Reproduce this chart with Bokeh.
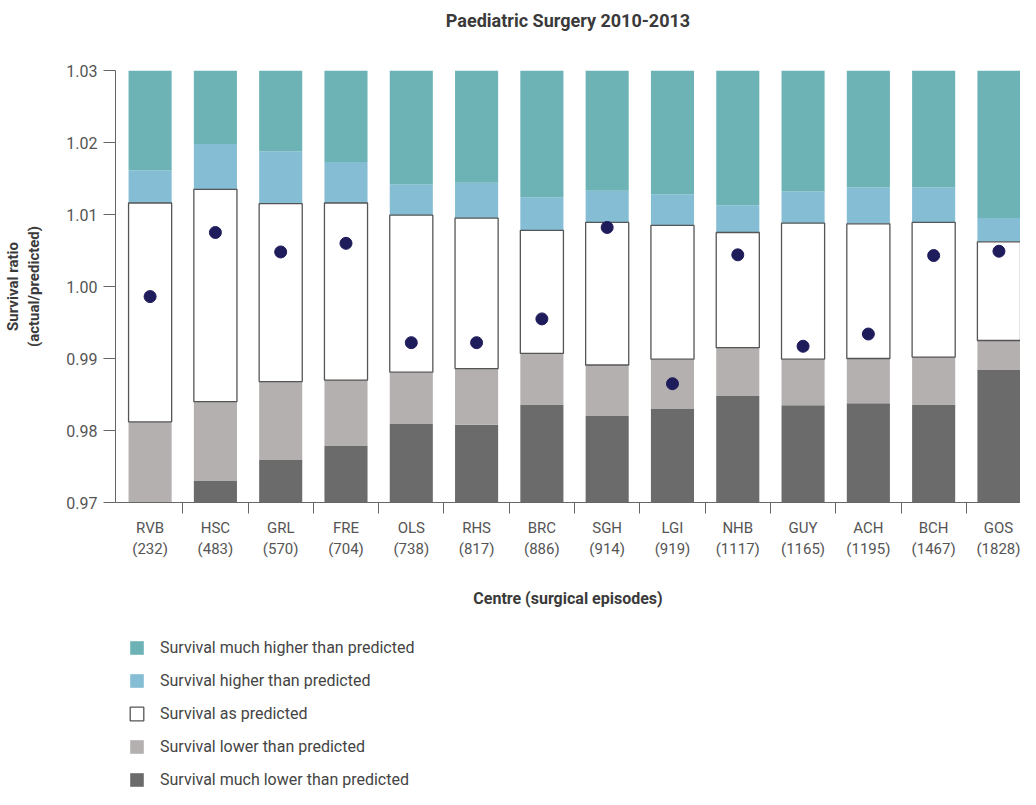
from bokeh.plotting import figure
from bokeh.layouts import column
from bokeh.models import FixedTicker, Legend, LegendItem, ColumnDataSource, Range1d
from bokeh.embed import file_html
from bokeh.resources import INLINE

# ---- data ----
centres = ["RVB", "HSC", "GRL", "FRE", "OLS", "RHS", "BRC", "SGH", "LGI", "NHB", "GUY", "ACH", "BCH", "GOS"]
episodes = [232, 483, 570, 704, 738, 817, 886, 914, 919, 1117, 1165, 1195, 1467, 1828]
much_lower_top = [0.9700, 0.9730, 0.9759, 0.9779, 0.9809, 0.9808, 0.9836, 0.9821, 0.9830, 0.9848, 0.9835, 0.9838, 0.9836, 0.9884]
lower_top = [0.9812, 0.9840, 0.9868, 0.9870, 0.9881, 0.9886, 0.9907, 0.9891, 0.9899, 0.9915, 0.9899, 0.9900, 0.9902, 0.9925]
as_predicted_top = [1.0116, 1.0135, 1.0115, 1.0116, 1.0099, 1.0095, 1.0078, 1.0089, 1.0085, 1.0075, 1.0088, 1.0087, 1.0089, 1.0062]
higher_top = [1.0161, 1.0198, 1.0188, 1.0173, 1.0142, 1.0144, 1.0124, 1.0133, 1.0128, 1.0113, 1.0132, 1.0138, 1.0138, 1.0095]
survival_ratio = [0.9986, 1.0075, 1.0048, 1.0060, 0.9922, 0.9922, 0.9955, 1.0082, 0.9865, 1.0044, 0.9917, 0.9934, 1.0043, 1.0049]
y_ticks = [0.97, 0.98, 0.99, 1.00, 1.01, 1.02, 1.03]
y_min, y_max = 0.97, 1.03

title_text = "Paediatric Surgery 2010-2013"
labels = ["Survival much higher than predicted", "Survival higher than predicted",
          "Survival as predicted", "Survival lower than predicted",
          "Survival much lower than predicted"]
colors = ["#6db3b6", "#84bdd4", "white", "#b3b0af", "#6b6b6b"]
BOX_LINE = "#555555"

FONT = "Roboto"
xs = list(range(len(centres)))

src = ColumnDataSource(dict(
    x=xs,
    base=[y_min] * len(xs),
    top_all=[y_max] * len(xs),
    ml=much_lower_top, lo=lower_top, ap=as_predicted_top, hi=higher_top,
    ratio=survival_ratio,
))
xr = Range1d(-0.53, 13.33)

# ---- title strip ----
head = figure(width=1020, height=45, output_backend="svg", toolbar_location=None,
              x_axis_type=None, y_axis_type=None, x_range=xr, y_range=Range1d(0, 1),
              min_border_left=115, min_border_right=0, min_border_top=0, min_border_bottom=0)
head.title.text = title_text
head.title.align = "center"
head.title.text_font = FONT
head.title.text_font_size = "18px"
head.title.text_font_style = "bold"
head.title.text_color = "#3a3a3a"
head.title.standoff = 14
head.outline_line_color = None
head.xgrid.grid_line_color = None
head.ygrid.grid_line_color = None

# ---- main chart ----
p = figure(width=1020, height=575, output_backend="svg", toolbar_location=None,
           x_range=xr, y_range=Range1d(y_min, y_max),
           min_border_left=115, min_border_right=0, min_border_top=25, min_border_bottom=118)
p.title.text = ""
p.outline_line_color = None
p.xgrid.grid_line_color = None
p.ygrid.grid_line_color = None

W = 0.66
p.vbar(x="x", bottom="base", top="ml", width=W, source=src, fill_color=colors[4], line_color=None)
p.vbar(x="x", bottom="ml", top="lo", width=W, source=src, fill_color=colors[3], line_color=None)
p.vbar(x="x", bottom="ap", top="hi", width=W, source=src, fill_color=colors[1], line_color=None)
p.vbar(x="x", bottom="hi", top="top_all", width=W, source=src, fill_color=colors[0], line_color=None)
p.vbar(x="x", bottom="lo", top="ap", width=W, source=src, fill_color=colors[2],
       line_color=BOX_LINE, line_width=1.3)
p.scatter(x="x", y="ratio", source=src, size=12, fill_color="#1f1c5c", line_color="#1f1c5c")

xa = p.xaxis[0]
xa.ticker = FixedTicker(ticks=xs, minor_ticks=[i + 0.5 for i in range(13)] + [13.33])
xa.major_label_overrides = {i: f"{c}\n({n})" for i, (c, n) in enumerate(zip(centres, episodes))}
xa.major_tick_line_color = None
xa.major_tick_out = 11
xa.major_tick_in = 0
xa.minor_tick_out = 11
xa.minor_tick_in = 0
xa.minor_tick_line_color = "#666666"
xa.axis_line_color = "#666666"
xa.major_label_standoff = 5
xa.major_label_text_font = FONT
xa.major_label_text_font_size = "15px"
xa.major_label_text_color = "#555555"
xa.axis_label = "Centre (surgical episodes)"
xa.axis_label_text_font = FONT
xa.axis_label_text_font_size = "16px"
xa.axis_label_text_font_style = "bold"
xa.axis_label_text_color = "#3a3a3a"
xa.axis_label_standoff = 28

ya = p.yaxis[0]
ya.ticker = FixedTicker(ticks=y_ticks, minor_ticks=[])
ya.major_label_overrides = {t: f"{t:.2f}" for t in y_ticks}
ya.axis_line_color = "#666666"
ya.major_tick_line_color = "#666666"
ya.major_tick_out = 12
ya.major_tick_in = 0
ya.major_label_standoff = 6
ya.major_label_text_font = FONT
ya.major_label_text_font_size = "16px"
ya.major_label_text_color = "#555555"
ya.axis_label = "Survival ratio\n(actual/predicted)"
ya.axis_label_text_font = FONT
ya.axis_label_text_font_size = "15px"
ya.axis_label_text_font_style = "bold"
ya.axis_label_text_color = "#3a3a3a"
ya.axis_label_standoff = 20

# ---- legend strip ----
lg = figure(width=1020, height=169, output_backend="svg", toolbar_location=None,
            x_axis_type=None, y_axis_type=None, x_range=xr, y_range=Range1d(y_min, y_max),
            min_border_left=115, min_border_right=0, min_border_top=0, min_border_bottom=0)
lg.outline_line_color = None
lg.xgrid.grid_line_color = None
lg.ygrid.grid_line_color = None
seg_cols = [("hi", "top_all"), ("ap", "hi"), ("lo", "ap"), ("ml", "lo"), ("base", "ml")]
items = []
for lab, col, (b, t) in zip(labels, colors, seg_cols):
    r = lg.vbar(x="x", bottom=b, top=t, width=W, source=src, fill_color=col,
                line_color=BOX_LINE if col == "white" else None, line_width=1.3, visible=False)
    items.append(LegendItem(label=lab, renderers=[r]))
legend = Legend(items=items, location=(13, 0), orientation="vertical")
legend.padding = 0
legend.margin = 0
legend.border_line_color = None
legend.background_fill_alpha = 0
legend.glyph_width = 17
legend.glyph_height = 17
legend.label_height = 19
legend.spacing = 14
legend.label_standoff = 15
legend.label_text_font = FONT
legend.label_text_font_size = "16px"
legend.label_text_color = "#444444"
legend.inactive_fill_alpha = 0
lg.add_layout(legend, "center")

layout = column(head, p, lg, spacing=0)
open("out.html", "w").write(file_html(layout, INLINE))
